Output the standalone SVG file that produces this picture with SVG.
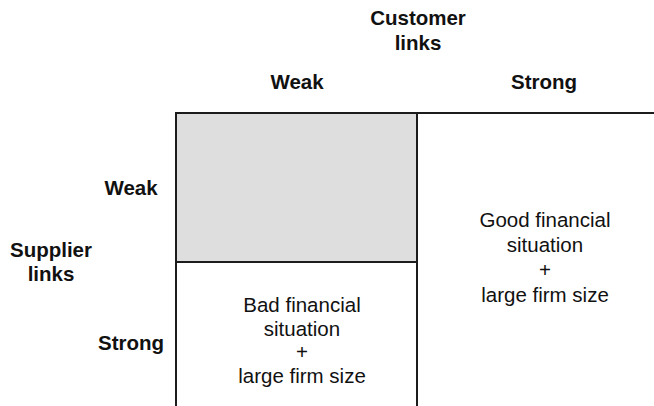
<svg xmlns="http://www.w3.org/2000/svg" width="654" height="406" viewBox="0 0 654 406">
  <style>
    .head { font-family: "Liberation Sans", Arial, sans-serif; font-weight: bold; font-size: 20.5px; fill: #111; text-anchor: middle; }
    .cell { font-family: "Liberation Sans", Arial, sans-serif; font-size: 20.5px; fill: #111; text-anchor: middle; }
    .rule { stroke: #1c1c1c; stroke-width: 2; fill: none; }
  </style>
  <rect width="654" height="406" fill="#ffffff"/>

  <!-- axis headings -->
  <g id="customer-axis">
    <text class="head" x="418" y="25">Customer</text>
    <text class="head" x="418" y="50">links</text>
    <text class="head" x="297" y="89">Weak</text>
    <text class="head" x="544" y="89">Strong</text>
  </g>
  <g id="supplier-axis">
    <text class="head" x="51" y="257">Supplier</text>
    <text class="head" x="51" y="281">links</text>
    <text class="head" x="131" y="195">Weak</text>
    <text class="head" x="131" y="350">Strong</text>
  </g>

  <!-- matrix cells -->
  <g id="cell-weak-weak">
    <rect x="176" y="113" width="241" height="149" fill="#dedede"/>
  </g>
  <g id="cell-strong-weak">
    <text class="cell" x="302" y="312">Bad financial</text>
    <text class="cell" x="302" y="336">situation</text>
    <text class="cell" x="302" y="359">+</text>
    <text class="cell" x="302" y="383">large firm size</text>
  </g>
  <g id="cell-strong-strong">
    <text class="cell" x="545" y="227">Good financial</text>
    <text class="cell" x="545" y="252">situation</text>
    <text class="cell" x="545" y="277">+</text>
    <text class="cell" x="545" y="302">large firm size</text>
  </g>

  <!-- grid lines -->
  <g id="grid">
    <line class="rule" x1="175" y1="113" x2="654" y2="113"/>
    <line class="rule" x1="176" y1="112" x2="176" y2="406"/>
    <line class="rule" x1="417" y1="112" x2="417" y2="406"/>
    <line class="rule" x1="175" y1="262" x2="418" y2="262"/>
  </g>
</svg>
